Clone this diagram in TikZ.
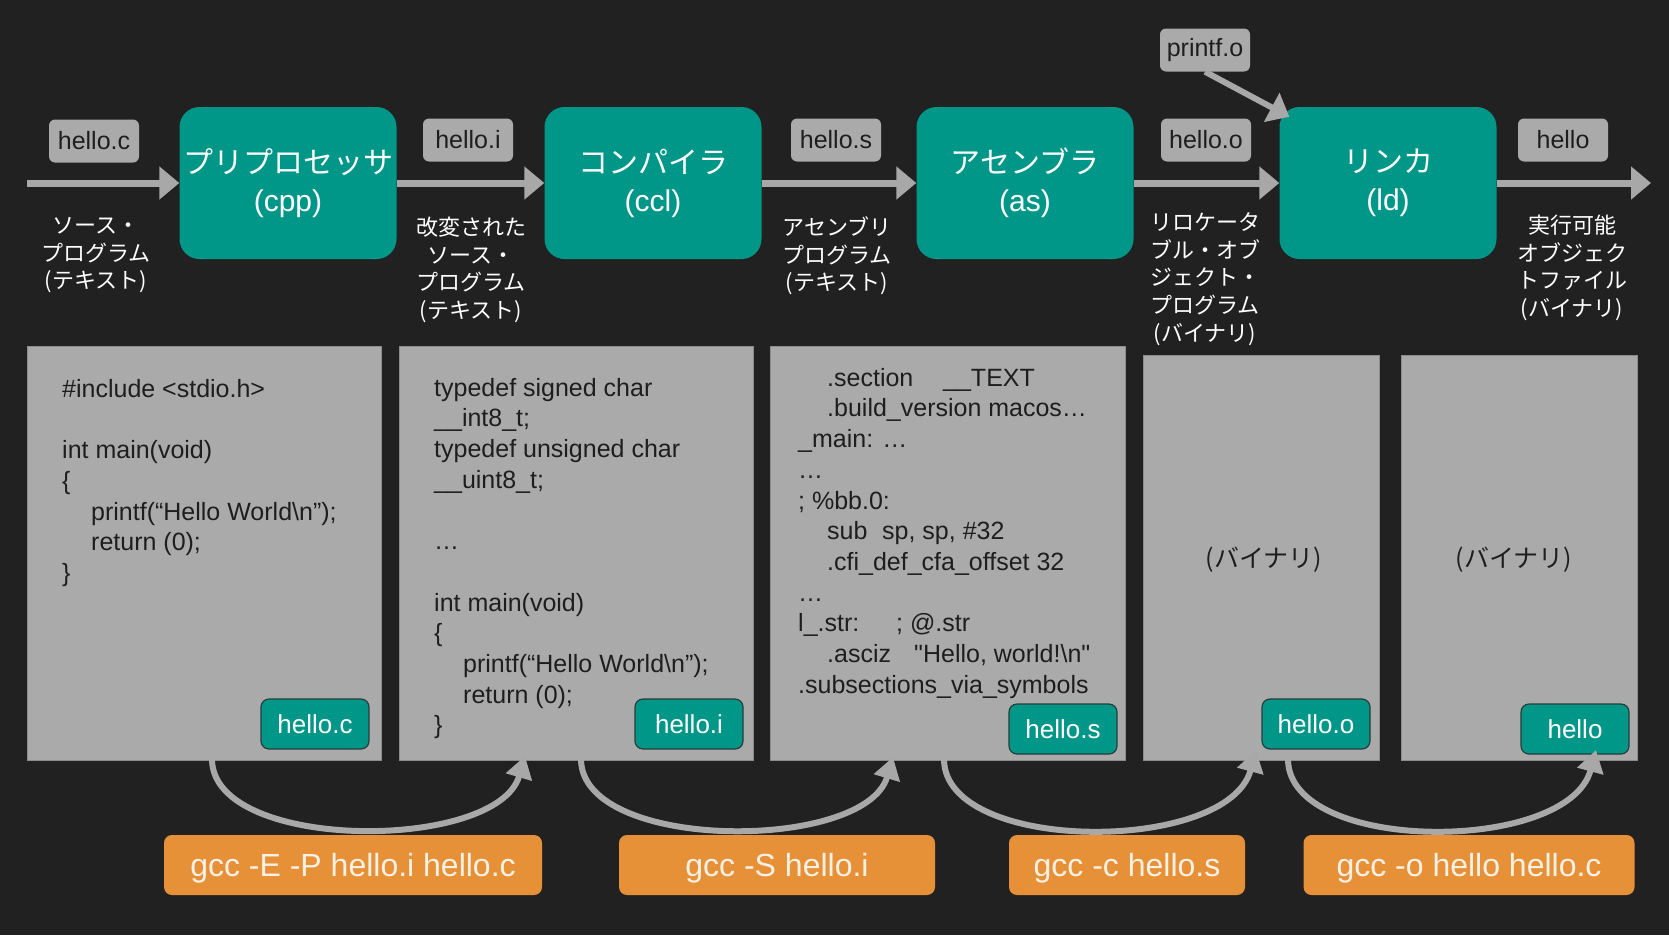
\documentclass[tikz,border=0pt]{standalone}
\usepackage{fontspec}
\setmainfont{Liberation Sans}[Ligatures=TeXOff]
\newfontfamily\jp{Noto Sans CJK JP}
\usetikzlibrary{arrows.meta,calc}
\definecolor{bgc}{RGB}{33,33,33}
\definecolor{teal1}{RGB}{0,150,136}
\definecolor{arrowgray}{RGB}{168,168,168}
\definecolor{lblgray}{RGB}{170,170,170}
\definecolor{codegray}{RGB}{170,170,170}
\definecolor{codeedge}{RGB}{140,140,140}
\definecolor{darktext}{RGB}{30,30,30}
\definecolor{orange1}{RGB}{230,145,56}
\definecolor{cream}{RGB}{250,240,228}
\definecolor{tagedge}{RGB}{40,60,58}
\begin{document}
\begin{tikzpicture}[x=1pt,y=-1pt,
  proc/.style={fill=teal1, rounded corners=20pt, minimum width=217pt, minimum height=152pt, inner sep=0pt, text=white, align=center, font=\fontsize{30}{38}\selectfont},
  flbl/.style={fill=lblgray, rounded corners=6pt, minimum width=90pt, minimum height=43pt, inner sep=0pt, text=darktext, font=\fontsize{25}{28}\selectfont},
  desc/.style={text=white, align=center, anchor=north, inner sep=0pt, font=\jp\fontsize{22}{27.7}\selectfont},
  codebox/.style={fill=codegray, draw=codeedge, line width=1pt, inner sep=0pt},
  code/.style={anchor=north west, align=left, inner sep=0pt, text=darktext, font=\fontsize{25}{30.7}\selectfont},
  bintext/.style={text=darktext, inner sep=0pt, font=\jp\fontsize{25}{30}\selectfont},
  tag/.style={fill=teal1, draw=tagedge, line width=1.2pt, rounded corners=8pt, minimum width=108pt, minimum height=50pt, inner sep=0pt, text=white, font=\fontsize{26}{30}\selectfont},
  cmd/.style={fill=orange1, rounded corners=8pt, minimum height=60pt, inner sep=0pt, text depth=0pt, text=cream, font=\fontsize{32}{38}\selectfont},
  flowarrow/.style={draw=arrowgray, line width=7pt, -{Triangle[length=20pt,width=32pt]}},
  curvearrow/.style={draw=arrowgray, line width=6pt, -{Triangle[length=22pt,width=26pt]}}
]
\fill[bgc] (0,0) rectangle (1669,935);
\useasboundingbox (0,0) rectangle (1669,935);

% processing stages
\node[proc] (B1) at (288,183) {{\jp プリプロセッサ}\\(cpp)};
\node[proc] (B2) at (653,183) {{\jp コンパイラ}\\(ccl)};
\node[proc] (B3) at (1025,183) {{\jp アセンブラ}\\(as)};
\node[proc] (B4) at (1388,183) {{\jp リンカ}\\(ld)};

% flow arrows
\coordinate (in0) at (27,183);
\coordinate (out5) at (1651,183);
\draw[flowarrow] (in0) -- (B1.west);
\draw[flowarrow] (B1.east) -- (B2.west);
\draw[flowarrow] (B2.east) -- (B3.west);
\draw[flowarrow] (B3.east) -- (B4.west);
\draw[flowarrow] (B4.east) -- (out5);

% file labels
\node[flbl] (lc) at (94,141) {hello.c};
\node[flbl] (li) at (468,140) {hello.i};
\node[flbl] (ls) at (836,140) {hello.s};
\node[flbl] (lo) at (1206,140) {hello.o};
\node[flbl] (lx) at (1563,140) {hello};
\node[flbl] (pf) at (1205,50) {printf.o};
\draw[flowarrow, line width=6pt] (pf.south) -- ($(B4.north west)+(10,10)$);

% descriptions
\node[desc] (d1) at (96,214) {\strut ソース・\\プログラム\\(テキスト)};
\node[desc] (d2) at (471,216) {\strut 改変された\\ソース・\\プログラム\\(テキスト)};
\node[desc] (d3) at (837,216) {\strut アセンブリ\\プログラム\\(テキスト)};
\node[desc] (d4) at (1205,211) {\strut リロケータ\\ブル・オブ\\ジェクト・\\プログラム\\(バイナリ)};
\node[desc] (d5) at (1572,214) {\strut 実行可能\\オブジェク\\トファイル\\(バイナリ)};

% code boxes
\node[codebox, minimum width=354pt, minimum height=414pt] (C1) at (204,553) {};
\node[codebox, minimum width=354pt, minimum height=414pt] (C2) at (576,553) {};
\node[codebox, minimum width=355pt, minimum height=414pt] (C3) at (947.5,553) {};
\node[codebox, minimum width=236pt, minimum height=405pt] (C4) at (1261,557.5) {};
\node[codebox, minimum width=236pt, minimum height=405pt] (C5) at (1519,557.5) {};

\node[code] (t1) at (62,375.5) {\strut\#include <stdio.h>\\
\mbox{}\\
int main(void)\\
\{\\
\hspace*{29pt}printf(“Hello World\textbackslash n”);\\
\hspace*{29pt}return (0);\\
\}};

\node[code] (t2) at (434,374.5) {\strut typedef signed char\\
\_\_int8\_t;\\
typedef unsigned char\\
\_\_uint8\_t;\\
\mbox{}\\
…\\
\mbox{}\\
int main(void)\\
\{\\
\hspace*{29pt}printf(“Hello World\textbackslash n”);\\
\hspace*{29pt}return (0);\\
\}};

\node[code] (t3) at (798,364.5) {\strut\hspace*{29pt}\makebox[116pt][l]{.section}\_\_TEXT\\
\hspace*{29pt}.build\_version macos…\\
\_main: …\\
…\\
; \%bb.0:\\
\hspace*{29pt}\makebox[55pt][l]{sub}sp, sp, \#32\\
\hspace*{29pt}.cfi\_def\_cfa\_offset 32\\
…\\
\makebox[98pt][l]{l\_.str:}; @.str\\
\hspace*{29pt}\makebox[87pt][l]{.asciz}"Hello, world!\textbackslash n"\\
.subsections\_via\_symbols};

\node[bintext] (bn1) at (1264,560) {(バイナリ)};
\node[bintext] (bn2) at (1514,560) {(バイナリ)};

% tags
\node[tag] (tc) at (315,724) {hello.c};
\node[tag] (ti) at (689,724) {hello.i};
\node[tag] (ts) at (1063,729) {hello.s};
\node[tag] (to) at (1316,724) {hello.o};
\node[tag] (tx) at (1575,729) {hello};

% curved arrows
\coordinate (k1a) at (212,760);  \coordinate (k1b) at (525,756);
\coordinate (k2a) at (581,760);  \coordinate (k2b) at (893,757);
\coordinate (k3a) at (944,760);  \coordinate (k3b) at (1256,750);
\coordinate (k4a) at (1288,760); \coordinate (k4b) at (1596,750);
\draw[curvearrow] (k1a) .. controls (214,852) and (497,852) .. (k1b);
\draw[curvearrow] (k2a) .. controls (583,852) and (865,852) .. (k2b);
\draw[curvearrow] (k3a) .. controls (946,854) and (1228,854) .. (k3b);
\draw[curvearrow] (k4a) .. controls (1290,854) and (1568,854) .. (k4b);

% commands
\node[cmd, minimum width=378pt] (g1) at (353,865) {gcc -E -P hello.i hello.c};
\node[cmd, minimum width=316pt] (g2) at (777,865) {gcc -S hello.i};
\node[cmd, minimum width=236pt] (g3) at (1127,865) {gcc -c hello.s};
\node[cmd, minimum width=331pt] (g4) at (1469,865) {gcc -o hello hello.c};
\end{tikzpicture}
\end{document}
